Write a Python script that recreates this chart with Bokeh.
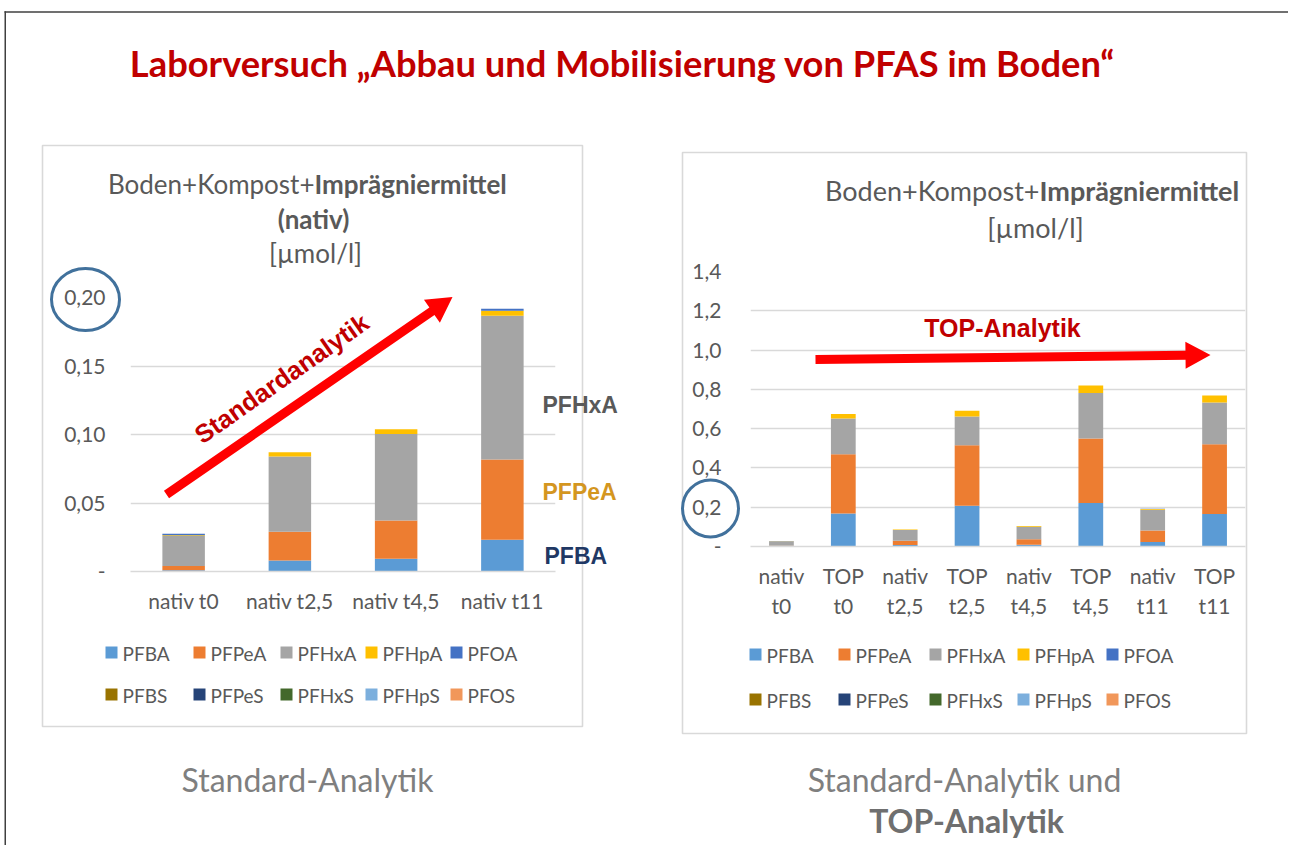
import math
from bokeh.plotting import figure
from bokeh.models import ColumnDataSource, Range1d, FixedTicker, LinearScale
from bokeh.layouts import column, row
from bokeh.core.properties import value
from bokeh.embed import file_html
from bokeh.resources import INLINE

# ---------------- data ----------------
series = ["PFBA", "PFPeA", "PFHxA", "PFHpA", "PFOA", "PFBS", "PFPeS", "PFHxS", "PFHpS", "PFOS"]
colors = ["#5B9BD5", "#ED7D31", "#A5A5A5", "#FFC000", "#4472C4",
          "#997300", "#264478", "#43682B", "#7CAFDD", "#F1975A"]

nativ_cats = ["nativ t0", "nativ t2,5", "nativ t4,5", "nativ t11"]
nativ_PFBA = [0.001, 0.008, 0.0093, 0.0231]
nativ_PFPeA = [0.003, 0.021, 0.028, 0.0586]
nativ_PFHxA = [0.022, 0.055, 0.063, 0.105]
nativ_PFHpA = [0.0004, 0.003, 0.0035, 0.0036]
nativ_PFOA = [0.0012, 0.0, 0.0, 0.0015]

right_cats = ["nativ\nt0", "TOP\nt0", "nativ\nt2,5", "TOP\nt2,5",
              "nativ\nt4,5", "TOP\nt4,5", "nativ\nt11", "TOP\nt11"]
TOP_PFBA = [0.168, 0.207, 0.222, 0.165]
TOP_PFPeA = [0.302, 0.309, 0.328, 0.356]
TOP_PFHxA = [0.182, 0.146, 0.231, 0.212]
TOP_PFHpA = [0.022, 0.029, 0.039, 0.036]
TOP_PFOA = [0.0, 0.0, 0.0, 0.0]

left_ticks = [0, 0.05, 0.10, 0.15, 0.20]
left_tick_labels = ["-", "0,05", "0,10", "0,15", "0,20"]
right_ticks = [0, 0.2, 0.4, 0.6, 0.8, 1.0, 1.2, 1.4]
right_tick_labels = ["-", "0,2", "0,4", "0,6", "0,8", "1,0", "1,2", "1,4"]

title_text = "Laborversuch \u201eAbbau und Mobilisierung von PFAS im Boden\u201c"

# ---------------- sources ----------------
zeros4 = [0.0] * 4
nativ = {"PFBA": nativ_PFBA, "PFPeA": nativ_PFPeA, "PFHxA": nativ_PFHxA,
         "PFHpA": nativ_PFHpA, "PFOA": nativ_PFOA}
top = {"PFBA": TOP_PFBA, "PFPeA": TOP_PFPeA, "PFHxA": TOP_PFHxA,
       "PFHpA": TOP_PFHpA, "PFOA": TOP_PFOA}
left_data = {"x": list(range(len(nativ_cats))), "cat": nativ_cats}
right_data = {"x": list(range(len(right_cats))), "cat": right_cats}
for s in series:
    nv = nativ.get(s, zeros4)
    tv = top.get(s, zeros4)
    left_data[s] = list(nv)
    inter = []
    for a, b in zip(nv, tv):
        inter += [a, b]
    right_data[s] = inter

GRAY_TXT = "#595959"
GRID = "#D9D9D9"
FONT = "Lato"
TOTAL_W, HDR_H, BODY_H = 1288, 138, 707


def chart(cats, data, yr, ticks, tlabels, W, H, frame, origin, ystand, xstand):
    x0, x1, y0, y1 = frame
    ox, oy = origin
    n = len(cats)
    p = figure(x_range=Range1d(-0.5, n - 0.5), y_range=Range1d(*yr),
               width=W, height=H, output_backend="svg", toolbar_location=None,
               min_border_left=x0 - ox, min_border_right=ox + W - x1,
               min_border_top=y0 - oy, min_border_bottom=oy + H - y1)
    p.frame_align = False
    p.outline_line_color = None
    p.background_fill_color = "white"
    p.border_fill_color = "white"
    # pixel ranges for decorations (1 unit = 1 px of the page)
    p.extra_x_ranges = {"px": Range1d(x0, x1)}
    p.extra_x_scales = {"px": LinearScale()}
    p.extra_y_ranges = {"py": Range1d(y1, y0)}
    p.extra_y_scales = {"py": LinearScale()}
    src = ColumnDataSource(data)
    rends = p.vbar_stack(series, x="x", width=0.4, fill_color=colors,
                         line_color=None, source=src)
    p.xgrid.grid_line_color = None
    p.ygrid.grid_line_color = GRID
    p.ygrid.grid_line_width = 1.3
    p.ygrid.ticker = FixedTicker(ticks=ticks)
    ya = p.yaxis[0]
    ya.ticker = FixedTicker(ticks=ticks)
    ya.major_label_overrides = {t: l for t, l in zip(ticks, tlabels)}
    ya.axis_line_color = None
    ya.major_tick_line_color = None
    ya.minor_tick_line_color = None
    ya.major_tick_out = 0
    ya.major_tick_in = 0
    ya.major_label_standoff = ystand
    ya.major_label_text_font = FONT
    ya.major_label_text_font_size = "21px"
    ya.major_label_text_color = GRAY_TXT
    xa = p.xaxis[0]
    xa.ticker = FixedTicker(ticks=data["x"])
    xa.major_label_overrides = {i: c for i, c in zip(data["x"], cats)}
    xa.axis_line_color = GRID
    xa.axis_line_width = 1.3
    xa.major_tick_line_color = None
    xa.minor_tick_line_color = None
    xa.major_tick_out = 0
    xa.major_tick_in = 0
    xa.major_label_standoff = xstand
    xa.major_label_text_font = FONT
    xa.major_label_text_font_size = "21px"
    xa.major_label_text_color = GRAY_TXT
    return p, rends


def make_helpers(p):
    R = dict(x_range_name="px", y_range_name="py", level="overlay")

    def lab(x, y, text, size, color, font=FONT, style="normal", align="center",
            baseline="middle", angle=0):
        p.text(x=[x], y=[y], text=[text], text_font=value(font), text_font_size=f"{size}px",
               text_color=color, text_font_style=style, text_align=align,
               text_baseline=baseline, angle=angle, angle_units="deg", **R)

    def box(l, t, r, b, color, lw, fill=None):
        if fill is None:
            p.quad(left=[l], right=[r], top=[t], bottom=[b], fill_alpha=0,
                   line_color=color, line_width=lw, **R)
        else:
            p.quad(left=[l], right=[r], top=[t], bottom=[b], fill_color=fill,
                   line_color=None, **R)

    def poly(xs, ys, fill):
        p.patch(x=xs, y=ys, fill_color=fill, line_color=None, **R)

    def ring(cx, cy, w, h, color, lw):
        p.ellipse(x=[cx], y=[cy], width=[w], height=[h], fill_alpha=0,
                  line_color=color, line_width=lw, **R)

    def legend(col_x, row_y, size=19):
        for i, (s, c) in enumerate(zip(series, colors)):
            gx = col_x[i % 5]
            gy = row_y[i // 5]
            box(gx, gy - 6, gx + 12, gy + 6, None, 0, fill=c)
            lab(gx + 17, gy + 0.5, s, size, GRAY_TXT, align="left")

    return lab, box, poly, ring, legend


def arrow_pts(x0, y0, x1, y1, sw, hw, hl):
    L = math.hypot(x1 - x0, y1 - y0)
    dx, dy = (x1 - x0) / L, (y1 - y0) / L
    nx, ny = -dy, dx
    bx, by = x1 - dx * hl, y1 - dy * hl
    pts = [(x0 + nx * sw / 2, y0 + ny * sw / 2), (bx + nx * sw / 2, by + ny * sw / 2),
           (bx + nx * hw / 2, by + ny * hw / 2), (x1, y1),
           (bx - nx * hw / 2, by - ny * hw / 2), (bx - nx * sw / 2, by - ny * sw / 2),
           (x0 - nx * sw / 2, y0 - ny * sw / 2)]
    return [q[0] for q in pts], [q[1] for q in pts]


# ---------------- header ----------------
hdr = figure(width=TOTAL_W, height=HDR_H, x_range=Range1d(0, TOTAL_W),
             y_range=Range1d(HDR_H, 0), output_backend="svg", toolbar_location=None,
             min_border=0, x_axis_location=None, y_axis_location=None)
hdr.frame_align = False
hdr.grid.visible = False
hdr.outline_line_color = None
hdr.segment(x0=[4], y0=[11.5], x1=[TOTAL_W], y1=[11.5], line_color="#404040", line_width=1.5)
hdr.quad(left=[4], right=[5.5], top=[10.8], bottom=[HDR_H + 2], fill_color="#404040",
         line_color=None)
hdr.text(x=[622], y=[62], text=[title_text], text_font=value(FONT), text_font_style="bold",
         text_font_size="36.3px", text_color="#C00000", text_align="center",
         text_baseline="middle")

# ---------------- left chart ----------------
LF = (130, 555, 297, 571)
pl, rl = chart(nativ_cats, left_data, (0, 0.2), left_ticks, left_tick_labels,
               632, BODY_H, LF, (0, HDR_H), 25, 16)
lab, box, poly, ring, legend = make_helpers(pl)
box(4, HDR_H - 2, 5.5, HDR_H + BODY_H, None, 0, fill="#404040")
box(42, 145, 582, 726, "#D9D9D9", 1.6)
lab(314, 183, "Boden+Kompost+", 26, GRAY_TXT, align="right")
lab(314, 183, "Impr\u00e4gniermittel", 26, GRAY_TXT, style="bold", align="left")
lab(313, 218, "(nativ)", 26, GRAY_TXT, style="bold")
lab(315, 252, "[\u00b5mol/l]", 26, GRAY_TXT)
xs, ys = arrow_pts(166, 494, 452, 296.5, 9, 28, 25)
poly(xs, ys, "#FF0000")
lab(281, 378, "Standardanalytik", 25.5, "#C00000", font="Liberation Sans", style="bold", angle=35)
lab(542, 404, "PFHxA", 23, "#595959", font="Liberation Sans", style="bold", align="left")
lab(542, 491, "PFPeA", 23, "#D4961F", font="Liberation Sans", style="bold", align="left")
lab(544, 555, "PFBA", 23, "#1F3864", font="Liberation Sans", style="bold", align="left")
ring(85, 299, 68, 62, "#41719C", 3)
lab(307, 779, "Standard-Analytik", 32, "#7F7F7F")
legend([105, 193, 280, 365, 450], [652, 694])

# ---------------- right chart ----------------
RF = (750, 1245, 271, 546)
pr, rr = chart(right_cats, right_data, (0, 1.4), right_ticks, right_tick_labels,
               TOTAL_W - 632, BODY_H, RF, (632, HDR_H), 29, 16)
lab2, box2, poly2, ring2, legend2 = make_helpers(pr)
box2(682, 152, 1246, 733, "#D9D9D9", 1.6)
lab2(1039, 190, "Boden+Kompost+", 27, GRAY_TXT, align="right")
lab2(1039, 190, "Impr\u00e4gniermittel", 27, GRAY_TXT, style="bold", align="left")
lab2(1035, 227, "[\u00b5mol/l]", 27, GRAY_TXT)
xs, ys = arrow_pts(815, 359, 1210, 354.5, 9, 27, 25)
poly2(xs, ys, "#FF0000")
lab2(1002, 327, "TOP-Analytik", 25, "#C00000", font="Liberation Sans", style="bold")
ring2(710, 508, 56, 57, "#41719C", 3)
lab2(964, 779, "Standard-Analytik und", 32, "#7F7F7F")
lab2(966, 820, "TOP-Analytik", 32, "#6F6F6F", style="bold")
legend2([749, 838, 929, 1017, 1106], [654, 699])

layout = column(hdr, row(pl, pr))
with open("out.html", "w", encoding="utf-8") as f:
    f.write(file_html(layout, INLINE))
